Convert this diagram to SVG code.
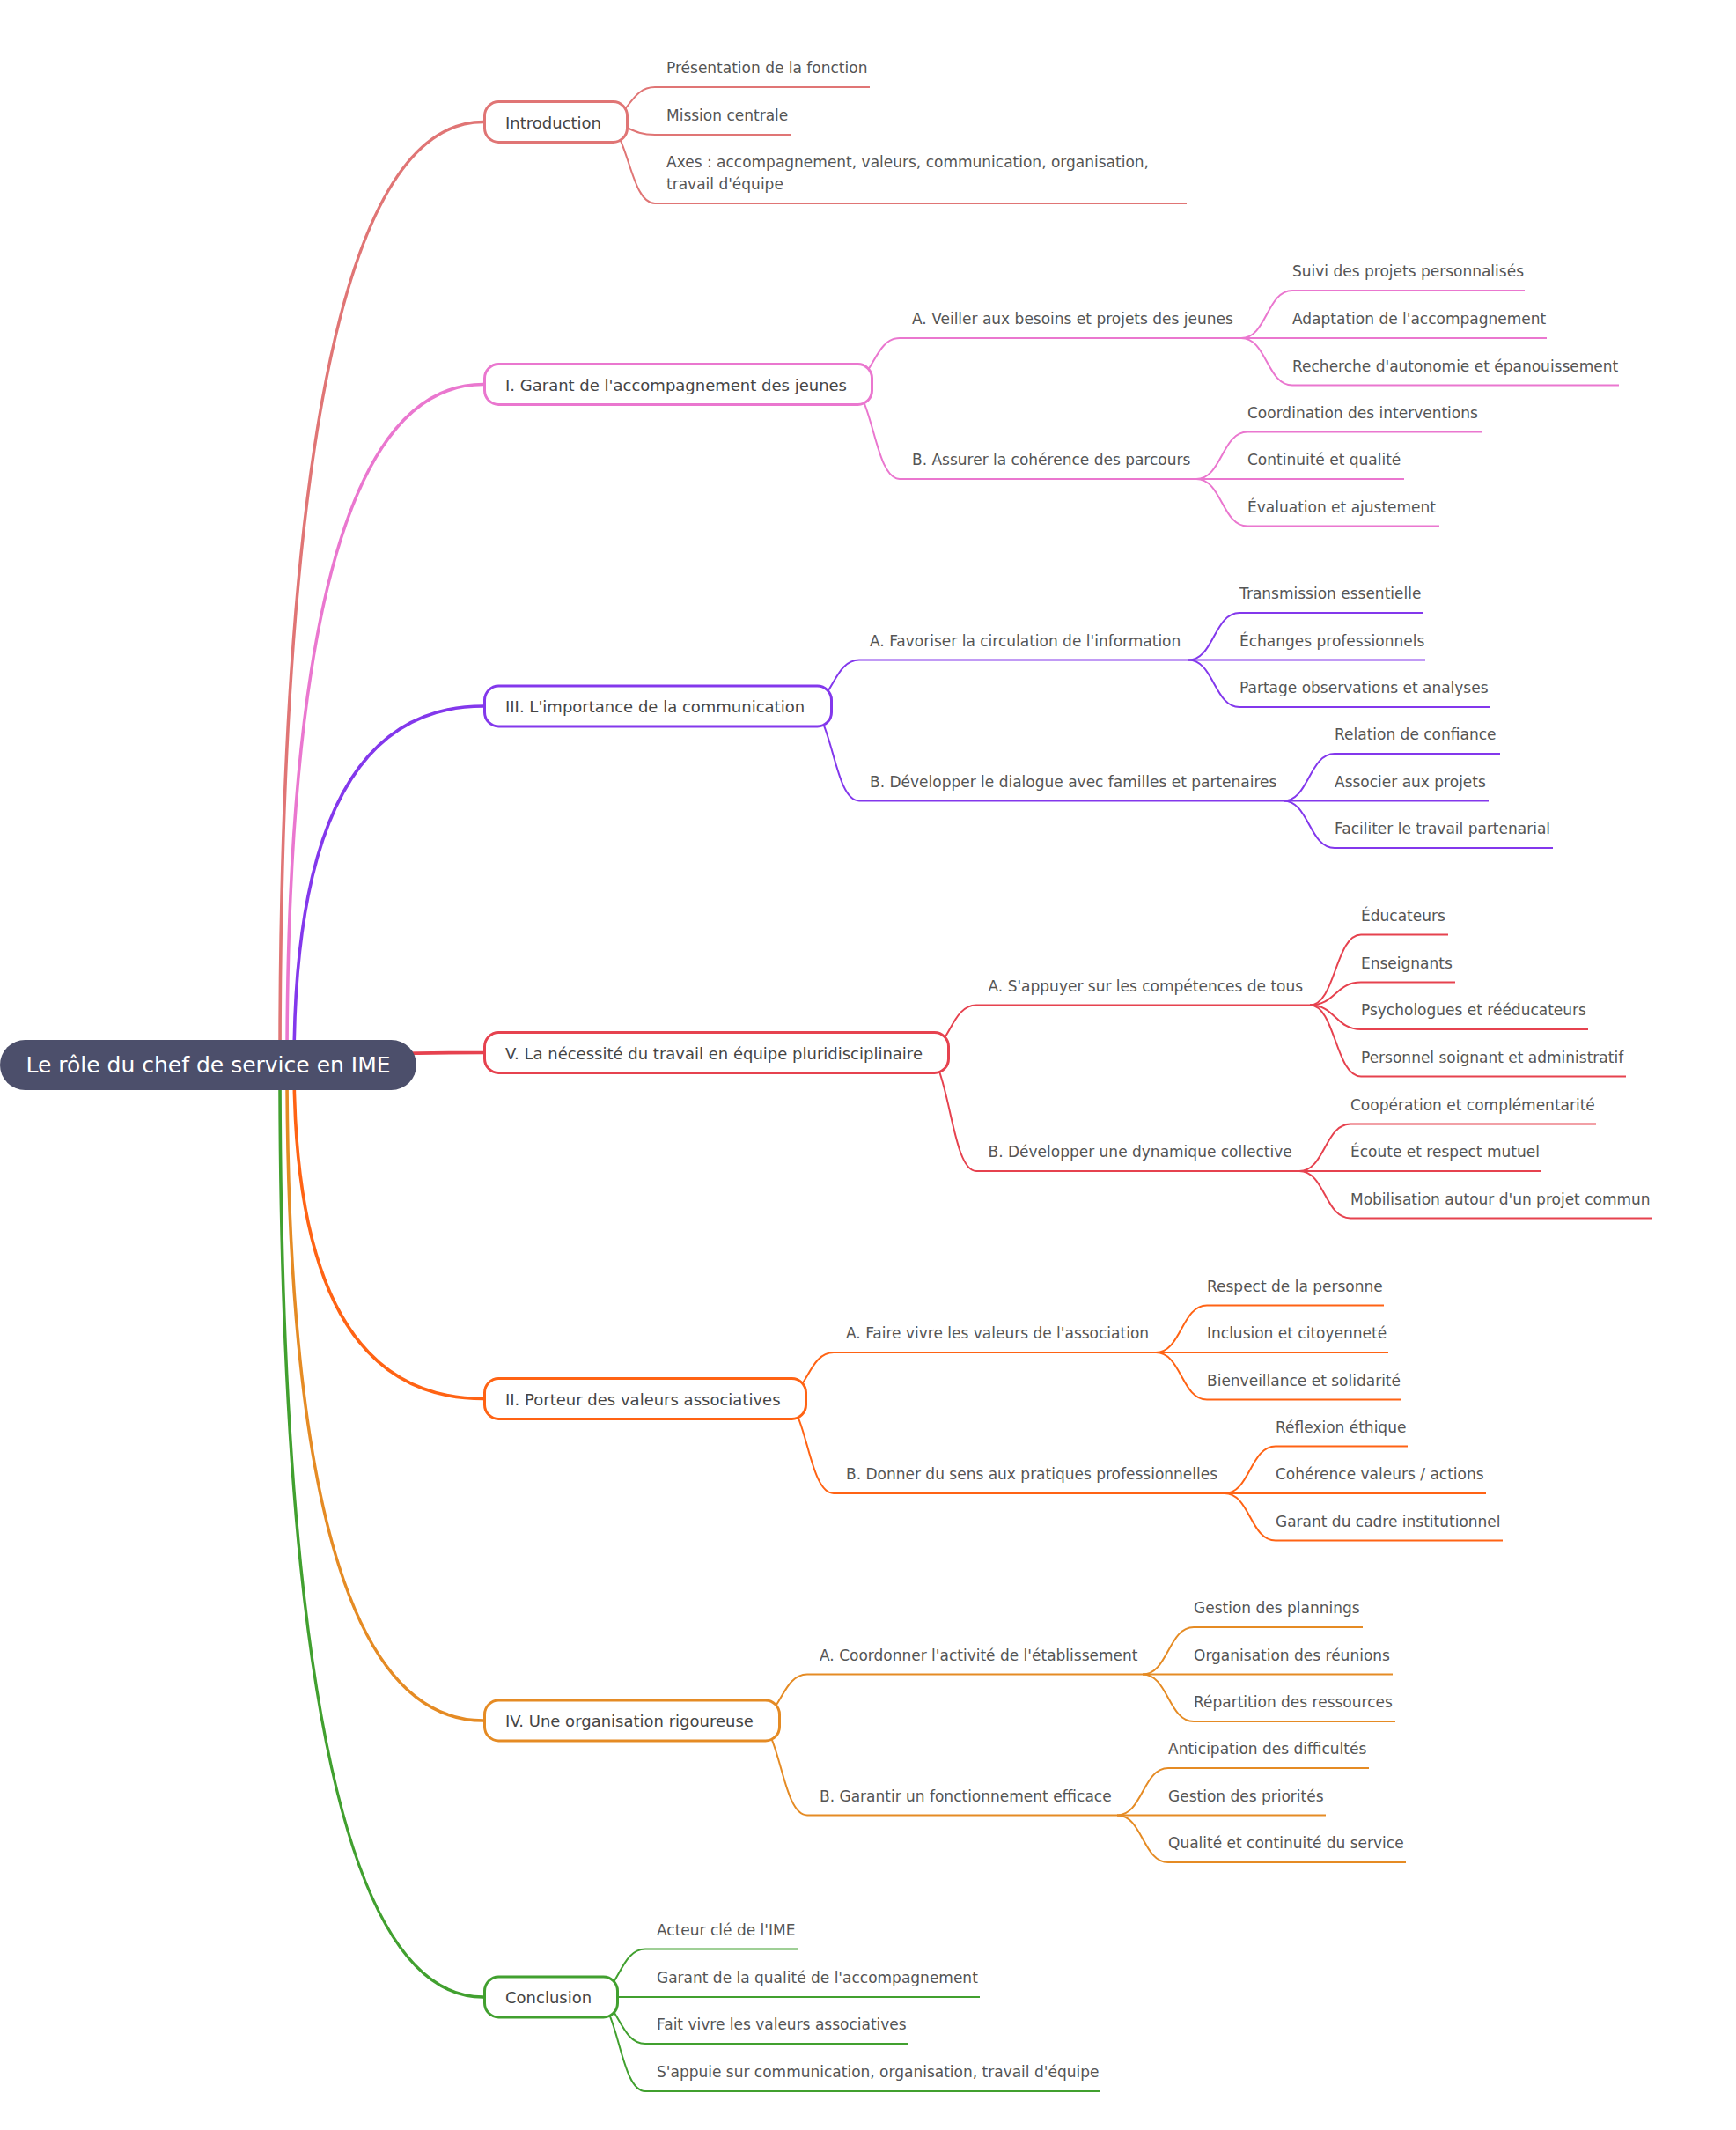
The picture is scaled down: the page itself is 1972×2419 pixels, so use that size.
<svg xmlns="http://www.w3.org/2000/svg" width="1972" height="2419" viewBox="0 0 1972 2419">
<style>
text{font-family:"DejaVu Sans","Liberation Sans",sans-serif}
.rt{font-size:25px;fill:#ffffff}
.l1 rect{fill:#ffffff;stroke-width:3}
.l1 text{font-size:18px;fill:#454545}
.t{font-size:17px;fill:#555555}
.main{fill:none;stroke-width:3.6}
.sub{fill:none;stroke-width:2}
.k1{stroke:#e07575}.k2{stroke:#ea77cf}.k3{stroke:#8338ec}.k4{stroke:#e6424f}.k5{stroke:#ff6314}.k6{stroke:#e58b24}.k7{stroke:#41a02f}
</style>
<rect width="1972" height="2419" fill="#ffffff"/>
<g id="connectors">
<path class="main k1" d="M318 1209.5 Q318 138.5 549 138.5"/>
<path class="main k2" d="M326 1209.5 Q326 436.5 549 436.5"/>
<path class="main k3" d="M334 1209.5 Q334 802 549 802"/>
<path class="main k4" d="M340 1209.5 Q340 1195.5 549 1195.5"/>
<path class="main k5" d="M334 1209.5 Q334 1588.5 549 1588.5"/>
<path class="main k6" d="M326 1209.5 Q326 1954 549 1954"/>
<path class="main k7" d="M318 1209.5 Q318 2268 549 2268"/>
<g class="sub k1">
<path d="M684 138.5 C714 138.5 714 99 744 99 H988"/>
<path d="M684 138.5 C714 138.5 714 153 744 153 H898"/>
<path d="M684 138.5 C714 138.5 714 231 744 231 H1348"/>
</g>
<g class="sub k2">
<path d="M962 436.5 C992 436.5 992 384 1022 384 H1410"/>
<path d="M962 436.5 C992 436.5 992 544 1022 544 H1359"/>
<path d="M1410 384 C1439 384 1439 330 1468 330 H1732"/>
<path d="M1410 384 H1757"/>
<path d="M1410 384 C1439 384 1439 437.5 1468 437.5 H1839"/>
<path d="M1359 544 C1388 544 1388 490.5 1417 490.5 H1683"/>
<path d="M1359 544 H1595"/>
<path d="M1359 544 C1388 544 1388 597.5 1417 597.5 H1635"/>
</g>
<g class="sub k3">
<path d="M916 802 C946 802 946 749.5 976 749.5 H1350"/>
<path d="M916 802 C946 802 946 909.5 976 909.5 H1458"/>
<path d="M1350 749.5 C1379 749.5 1379 696 1408 696 H1616"/>
<path d="M1350 749.5 H1619"/>
<path d="M1350 749.5 C1379 749.5 1379 803 1408 803 H1693"/>
<path d="M1458 909.5 C1487 909.5 1487 856 1516 856 H1704"/>
<path d="M1458 909.5 H1691"/>
<path d="M1458 909.5 C1487 909.5 1487 963 1516 963 H1764"/>
</g>
<g class="sub k4">
<path d="M1049 1195.5 C1079 1195.5 1079 1141.5 1109 1141.5 H1488"/>
<path d="M1049 1195.5 C1079 1195.5 1079 1330 1109 1330 H1476"/>
<path d="M1488 1141.5 C1517 1141.5 1517 1061.5 1546 1061.5 H1645"/>
<path d="M1488 1141.5 C1517 1141.5 1517 1115.5 1546 1115.5 H1653"/>
<path d="M1488 1141.5 C1517 1141.5 1517 1169 1546 1169 H1804"/>
<path d="M1488 1141.5 C1517 1141.5 1517 1222.5 1546 1222.5 H1847"/>
<path d="M1476 1330 C1505 1330 1505 1276.5 1534 1276.5 H1813"/>
<path d="M1476 1330 H1750"/>
<path d="M1476 1330 C1505 1330 1505 1383.5 1534 1383.5 H1877"/>
</g>
<g class="sub k5">
<path d="M887 1588.5 C917 1588.5 917 1536 947 1536 H1313"/>
<path d="M887 1588.5 C917 1588.5 917 1696 947 1696 H1391"/>
<path d="M1313 1536 C1342 1536 1342 1482.5 1371 1482.5 H1572"/>
<path d="M1313 1536 H1577"/>
<path d="M1313 1536 C1342 1536 1342 1589.5 1371 1589.5 H1592"/>
<path d="M1391 1696 C1420 1696 1420 1642.5 1449 1642.5 H1599"/>
<path d="M1391 1696 H1688"/>
<path d="M1391 1696 C1420 1696 1420 1749.5 1449 1749.5 H1707"/>
</g>
<g class="sub k6">
<path d="M857 1954 C887 1954 887 1901.5 917 1901.5 H1298"/>
<path d="M857 1954 C887 1954 887 2061.5 917 2061.5 H1269"/>
<path d="M1298 1901.5 C1327 1901.5 1327 1848 1356 1848 H1548"/>
<path d="M1298 1901.5 H1582"/>
<path d="M1298 1901.5 C1327 1901.5 1327 1955 1356 1955 H1585"/>
<path d="M1269 2061.5 C1298 2061.5 1298 2008 1327 2008 H1555"/>
<path d="M1269 2061.5 H1506"/>
<path d="M1269 2061.5 C1298 2061.5 1298 2115 1327 2115 H1597"/>
</g>
<g class="sub k7">
<path d="M673 2268 C703 2268 703 2213.5 733 2213.5 H906"/>
<path d="M673 2268 H1113"/>
<path d="M673 2268 C703 2268 703 2321 733 2321 H1032"/>
<path d="M673 2268 C703 2268 703 2375 733 2375 H1250"/>
</g>
</g>

<g id="root">
<rect x="0" y="1181" width="473" height="57" rx="28.5" fill="#4c4f6b"/>
<text class="rt" x="236.5" y="1218" text-anchor="middle">Le rôle du chef de service en IME</text>
</g>

<g id="n-intro" class="l1"><rect class="k1" x="550.5" y="115.5" width="162" height="46" rx="16"/><text x="574" y="145.5">Introduction</text></g>
<g id="n-1" class="l1"><rect class="k2" x="550.5" y="413.5" width="440" height="46" rx="16"/><text x="574" y="443.5">I. Garant de l'accompagnement des jeunes</text></g>
<g id="n-3" class="l1"><rect class="k3" x="550.5" y="779" width="394" height="46" rx="16"/><text x="574" y="809">III. L'importance de la communication</text></g>
<g id="n-5" class="l1"><rect class="k4" x="550.5" y="1172.5" width="527" height="46" rx="16"/><text x="574" y="1202.5">V. La nécessité du travail en équipe pluridisciplinaire</text></g>
<g id="n-2" class="l1"><rect class="k5" x="550.5" y="1565.5" width="365" height="46" rx="16"/><text x="574" y="1595.5">II. Porteur des valeurs associatives</text></g>
<g id="n-4" class="l1"><rect class="k6" x="550.5" y="1931" width="335" height="46" rx="16"/><text x="574" y="1961">IV. Une organisation rigoureuse</text></g>
<g id="n-concl" class="l1"><rect class="k7" x="550.5" y="2245" width="151" height="46" rx="16"/><text x="574" y="2275">Conclusion</text></g>

<g id="intro-children">
<text class="t" x="757" y="83">Présentation de la fonction</text>
<text class="t" x="757" y="137">Mission centrale</text>
<text class="t" x="757" y="190">Axes : accompagnement, valeurs, communication, organisation,</text>
<text class="t" x="757" y="215">travail d'équipe</text>
</g>
<g id="n1-children">
<text class="t" x="1036" y="368">A. Veiller aux besoins et projets des jeunes</text>
<text class="t" x="1468" y="314">Suivi des projets personnalisés</text>
<text class="t" x="1468" y="368">Adaptation de l'accompagnement</text>
<text class="t" x="1468" y="421.5">Recherche d'autonomie et épanouissement</text>
<text class="t" x="1036" y="528">B. Assurer la cohérence des parcours</text>
<text class="t" x="1417" y="474.5">Coordination des interventions</text>
<text class="t" x="1417" y="528">Continuité et qualité</text>
<text class="t" x="1417" y="581.5">Évaluation et ajustement</text>
</g>
<g id="n3-children">
<text class="t" x="988" y="733.5">A. Favoriser la circulation de l'information</text>
<text class="t" x="1408" y="680">Transmission essentielle</text>
<text class="t" x="1408" y="733.5">Échanges professionnels</text>
<text class="t" x="1408" y="787">Partage observations et analyses</text>
<text class="t" x="988" y="893.5">B. Développer le dialogue avec familles et partenaires</text>
<text class="t" x="1516" y="840">Relation de confiance</text>
<text class="t" x="1516" y="893.5">Associer aux projets</text>
<text class="t" x="1516" y="947">Faciliter le travail partenarial</text>
</g>
<g id="n5-children">
<text class="t" x="1122.5" y="1125.5">A. S'appuyer sur les compétences de tous</text>
<text class="t" x="1546" y="1045.5">Éducateurs</text>
<text class="t" x="1546" y="1099.5">Enseignants</text>
<text class="t" x="1546" y="1153">Psychologues et rééducateurs</text>
<text class="t" x="1546" y="1206.5">Personnel soignant et administratif</text>
<text class="t" x="1122.5" y="1314">B. Développer une dynamique collective</text>
<text class="t" x="1534" y="1260.5">Coopération et complémentarité</text>
<text class="t" x="1534" y="1314">Écoute et respect mutuel</text>
<text class="t" x="1534" y="1367.5">Mobilisation autour d'un projet commun</text>
</g>
<g id="n2-children">
<text class="t" x="961" y="1520">A. Faire vivre les valeurs de l'association</text>
<text class="t" x="1371" y="1466.5">Respect de la personne</text>
<text class="t" x="1371" y="1520">Inclusion et citoyenneté</text>
<text class="t" x="1371" y="1573.5">Bienveillance et solidarité</text>
<text class="t" x="961" y="1680">B. Donner du sens aux pratiques professionnelles</text>
<text class="t" x="1449" y="1626.5">Réflexion éthique</text>
<text class="t" x="1449" y="1680">Cohérence valeurs / actions</text>
<text class="t" x="1449" y="1733.5">Garant du cadre institutionnel</text>
</g>
<g id="n4-children">
<text class="t" x="931" y="1885.5">A. Coordonner l'activité de l'établissement</text>
<text class="t" x="1356" y="1832">Gestion des plannings</text>
<text class="t" x="1356" y="1885.5">Organisation des réunions</text>
<text class="t" x="1356" y="1939">Répartition des ressources</text>
<text class="t" x="931" y="2045.5">B. Garantir un fonctionnement efficace</text>
<text class="t" x="1327" y="1992">Anticipation des difficultés</text>
<text class="t" x="1327" y="2045.5">Gestion des priorités</text>
<text class="t" x="1327" y="2099">Qualité et continuité du service</text>
</g>
<g id="concl-children">
<text class="t" x="746" y="2197.5">Acteur clé de l'IME</text>
<text class="t" x="746" y="2252">Garant de la qualité de l'accompagnement</text>
<text class="t" x="746" y="2305">Fait vivre les valeurs associatives</text>
<text class="t" x="746" y="2359">S'appuie sur communication, organisation, travail d'équipe</text>
</g>
</svg>
